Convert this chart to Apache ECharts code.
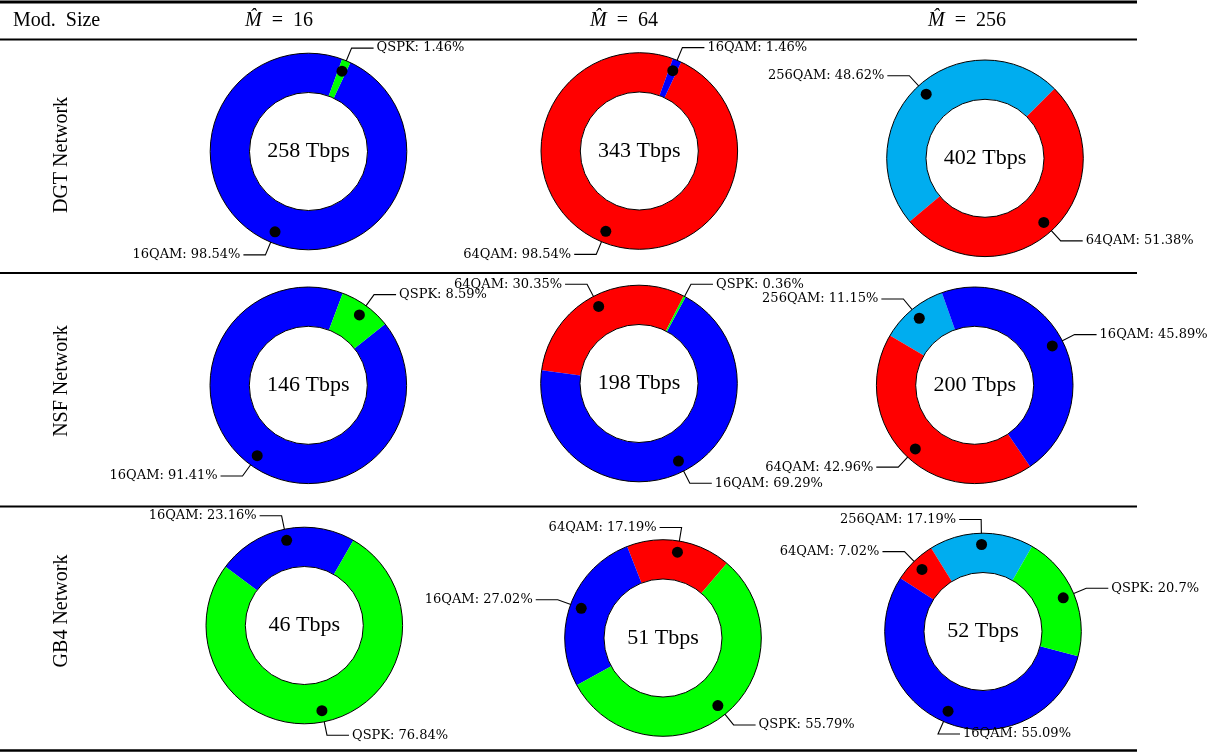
<!DOCTYPE html>
<html>
<head>
<meta charset="utf-8">
<script src="https://cdn.jsdelivr.net/npm/echarts@6/dist/echarts.min.js"></script>
<style>
html,body{margin:0;padding:0;background:#fff;}
#main{width:1230px;height:754px;}
</style>
</head>
<body>
<div id="main"></div>
<script>
// ---------------- data ----------------
const COLUMN_SIZES = ['16', '64', '256'];
const ROW_NETWORKS = ['DGT Network', 'NSF Network', 'GB4 Network'];
const HEADER_LEFT = 'Mod.  Size';

const TOTALS_DGT = [258, 343, 402];
const TOTALS_NSF = [146, 198, 200];
const TOTALS_GB4 = [46, 51, 52];

const FORMATS_DGT_16 = ['16QAM', 'QSPK'];
const SHARES_DGT_16 = [98.54, 1.46];
const FORMATS_DGT_64 = ['64QAM', '16QAM'];
const SHARES_DGT_64 = [98.54, 1.46];
const FORMATS_DGT_256 = ['256QAM', '64QAM'];
const SHARES_DGT_256 = [48.62, 51.38];

const FORMATS_NSF_16 = ['16QAM', 'QSPK'];
const SHARES_NSF_16 = [91.41, 8.59];
const FORMATS_NSF_64 = ['64QAM', '16QAM', 'QSPK'];
const SHARES_NSF_64 = [30.35, 69.29, 0.36];
const FORMATS_NSF_256 = ['256QAM', '64QAM', '16QAM'];
const SHARES_NSF_256 = [11.15, 42.96, 45.89];

const FORMATS_GB4_16 = ['16QAM', 'QSPK'];
const SHARES_GB4_16 = [23.16, 76.84];
const FORMATS_GB4_64 = ['64QAM', '16QAM', 'QSPK'];
const SHARES_GB4_64 = [17.19, 27.02, 55.79];
const FORMATS_GB4_256 = ['256QAM', '64QAM', '16QAM', 'QSPK'];
const SHARES_GB4_256 = [17.19, 7.02, 55.09, 20.7];

// ---------------- style / layout ----------------
const FORMAT_COLORS = { 'QSPK': '#00ff00', '16QAM': '#0000ff', '64QAM': '#ff0000', '256QAM': '#00adef' };
const PIE_CENTERS = [
  [308.5, 151.5], [639.3, 151], [985, 158.3],
  [308.3, 385.3], [639, 383.5], [974.7, 385.3],
  [304.3, 625.5], [663, 638], [983, 631.5]
];
const START_ANGLES = [70, 70, 45, 69.5, 63, 109.5, 60, 49.5, 60];
const SIDE_OVERRIDES = { '7:0': -1, '8:2': 1 };
const R_IN = 59, R_OUT = 98.3, R_DOT = 84, R_BEND = 112, HLEN = 22, GAP = 3, DOT_SIZE = 11;
const COL_HEADER_X = [279, 624, 967];
const ROW_LABEL_Y = [155, 381, 611];
const LINE_RIGHT = 1137;

const charts = [
  [FORMATS_DGT_16, SHARES_DGT_16, TOTALS_DGT[0]],
  [FORMATS_DGT_64, SHARES_DGT_64, TOTALS_DGT[1]],
  [FORMATS_DGT_256, SHARES_DGT_256, TOTALS_DGT[2]],
  [FORMATS_NSF_16, SHARES_NSF_16, TOTALS_NSF[0]],
  [FORMATS_NSF_64, SHARES_NSF_64, TOTALS_NSF[1]],
  [FORMATS_NSF_256, SHARES_NSF_256, TOTALS_NSF[2]],
  [FORMATS_GB4_16, SHARES_GB4_16, TOTALS_GB4[0]],
  [FORMATS_GB4_64, SHARES_GB4_64, TOTALS_GB4[1]],
  [FORMATS_GB4_256, SHARES_GB4_256, TOTALS_GB4[2]]
];

const LABEL_FONT = 'DejaVu Serif';
const MAIN_FONT = '"Liberation Serif", "Times New Roman", serif';

const series = [];
const graphics = [];

charts.forEach(([formats, shares, total], ci) => {
  const center = PIE_CENTERS[ci];
  const data = formats.map((f, i) => ({
    name: f, value: shares[i], itemStyle: { color: FORMAT_COLORS[f] }
  }));
  // main donut with labels and leader lines
  series.push({
    type: 'pie', center: center, radius: [R_IN, R_OUT],
    startAngle: START_ANGLES[ci], clockwise: false,
    avoidLabelOverlap: false, silent: true, animation: false,
    itemStyle: { borderWidth: 0 },
    label: {
      show: true, position: 'outside', formatter: '{b}: {c}%',
      fontFamily: LABEL_FONT, fontSize: 13, color: '#000'
    },
    labelLine: { show: true, length: R_BEND - R_OUT, length2: HLEN, lineStyle: { color: '#000', width: 1.1 } },
    labelLayout: (p) => {
      const pts = p.labelLinePoints;
      if (!pts) return {};
      let vx = pts[0][0] - center[0], vy = pts[0][1] - center[1];
      const len = Math.hypot(vx, vy) || 1;
      vx /= len; vy /= len;
      const dot = [center[0] + vx * R_DOT, center[1] + vy * R_DOT];
      const bend = [center[0] + vx * R_BEND, center[1] + vy * R_BEND];
      const key = ci + ':' + p.dataIndex;
      const side = SIDE_OVERRIDES[key] != null ? SIDE_OVERRIDES[key] : (vx < 0 ? -1 : 1);
      const end = [bend[0] + side * HLEN, bend[1]];
      return {
        x: end[0] + side * GAP, y: end[1],
        align: side < 0 ? 'right' : 'left', verticalAlign: 'middle',
        labelLinePoints: [dot, bend, end]
      };
    },
    data: data, z: 2
  });
  // ring outline
  series.push({
    type: 'pie', center: center, radius: [R_IN, R_OUT], silent: true, animation: false,
    label: { show: false }, labelLine: { show: false },
    itemStyle: { color: 'rgba(0,0,0,0)', borderColor: '#000', borderWidth: 1 },
    data: [{ value: 1, name: 'outline' }], z: 3
  });
  // dots at slice middles
  series.push({
    type: 'pie', center: center, radius: [2 * R_DOT - R_OUT, R_OUT],
    startAngle: START_ANGLES[ci], clockwise: false, silent: true, animation: false,
    avoidLabelOverlap: false,
    itemStyle: { color: 'rgba(0,0,0,0)', borderWidth: 0 },
    label: {
      show: true, position: 'inside',
      formatter: (p) => (p.value >= 1 ? '{d|}' : ''),
      rich: { d: { width: DOT_SIZE, height: DOT_SIZE, borderRadius: DOT_SIZE / 2, backgroundColor: '#000' } }
    },
    labelLine: { show: false },
    data: formats.map((f, i) => ({ name: f, value: shares[i] })), z: 4
  });
  graphics.push({
    type: 'text', x: center[0], y: center[1], z: 10,
    style: { text: total + ' Tbps', align: 'center', verticalAlign: 'middle',
             font: '22px ' + MAIN_FONT, fill: '#000' }
  });
});

// table rules
const rules = [[2, 3], [39.5, 2], [273, 2], [506.5, 2], [750.5, 2.5]];
rules.forEach(([y, w]) => graphics.push({
  type: 'line', z: 10, shape: { x1: 0, y1: y, x2: LINE_RIGHT, y2: y },
  style: { stroke: '#000', lineWidth: w }
}));

graphics.push({
  type: 'text', x: 13, y: 21, z: 10,
  style: { text: HEADER_LEFT, align: 'left', verticalAlign: 'middle', font: '20px ' + MAIN_FONT, fill: '#000' }
});
COLUMN_SIZES.forEach((s, i) => graphics.push({
  type: 'text', x: COL_HEADER_X[i], y: 21, z: 10,
  style: {
    text: '{i|M\u0302}\u2002=\u2002' + s, align: 'center', verticalAlign: 'middle',
    font: '20px ' + MAIN_FONT, fill: '#000',
    rich: { i: { fontStyle: 'italic', fontFamily: MAIN_FONT, fontSize: 20 } }
  }
}));
ROW_NETWORKS.forEach((r, i) => graphics.push({
  type: 'text', x: 62, y: ROW_LABEL_Y[i], rotation: Math.PI / 2, z: 10,
  style: { text: r, align: 'center', verticalAlign: 'middle', font: '20px ' + MAIN_FONT, fill: '#000' }
}));

const chart = echarts.init(document.getElementById('main'), null, { renderer: 'canvas' });
chart.setOption({
  backgroundColor: '#fff',
  animation: false,
  series: series,
  graphic: graphics
});
</script>
</body>
</html>
